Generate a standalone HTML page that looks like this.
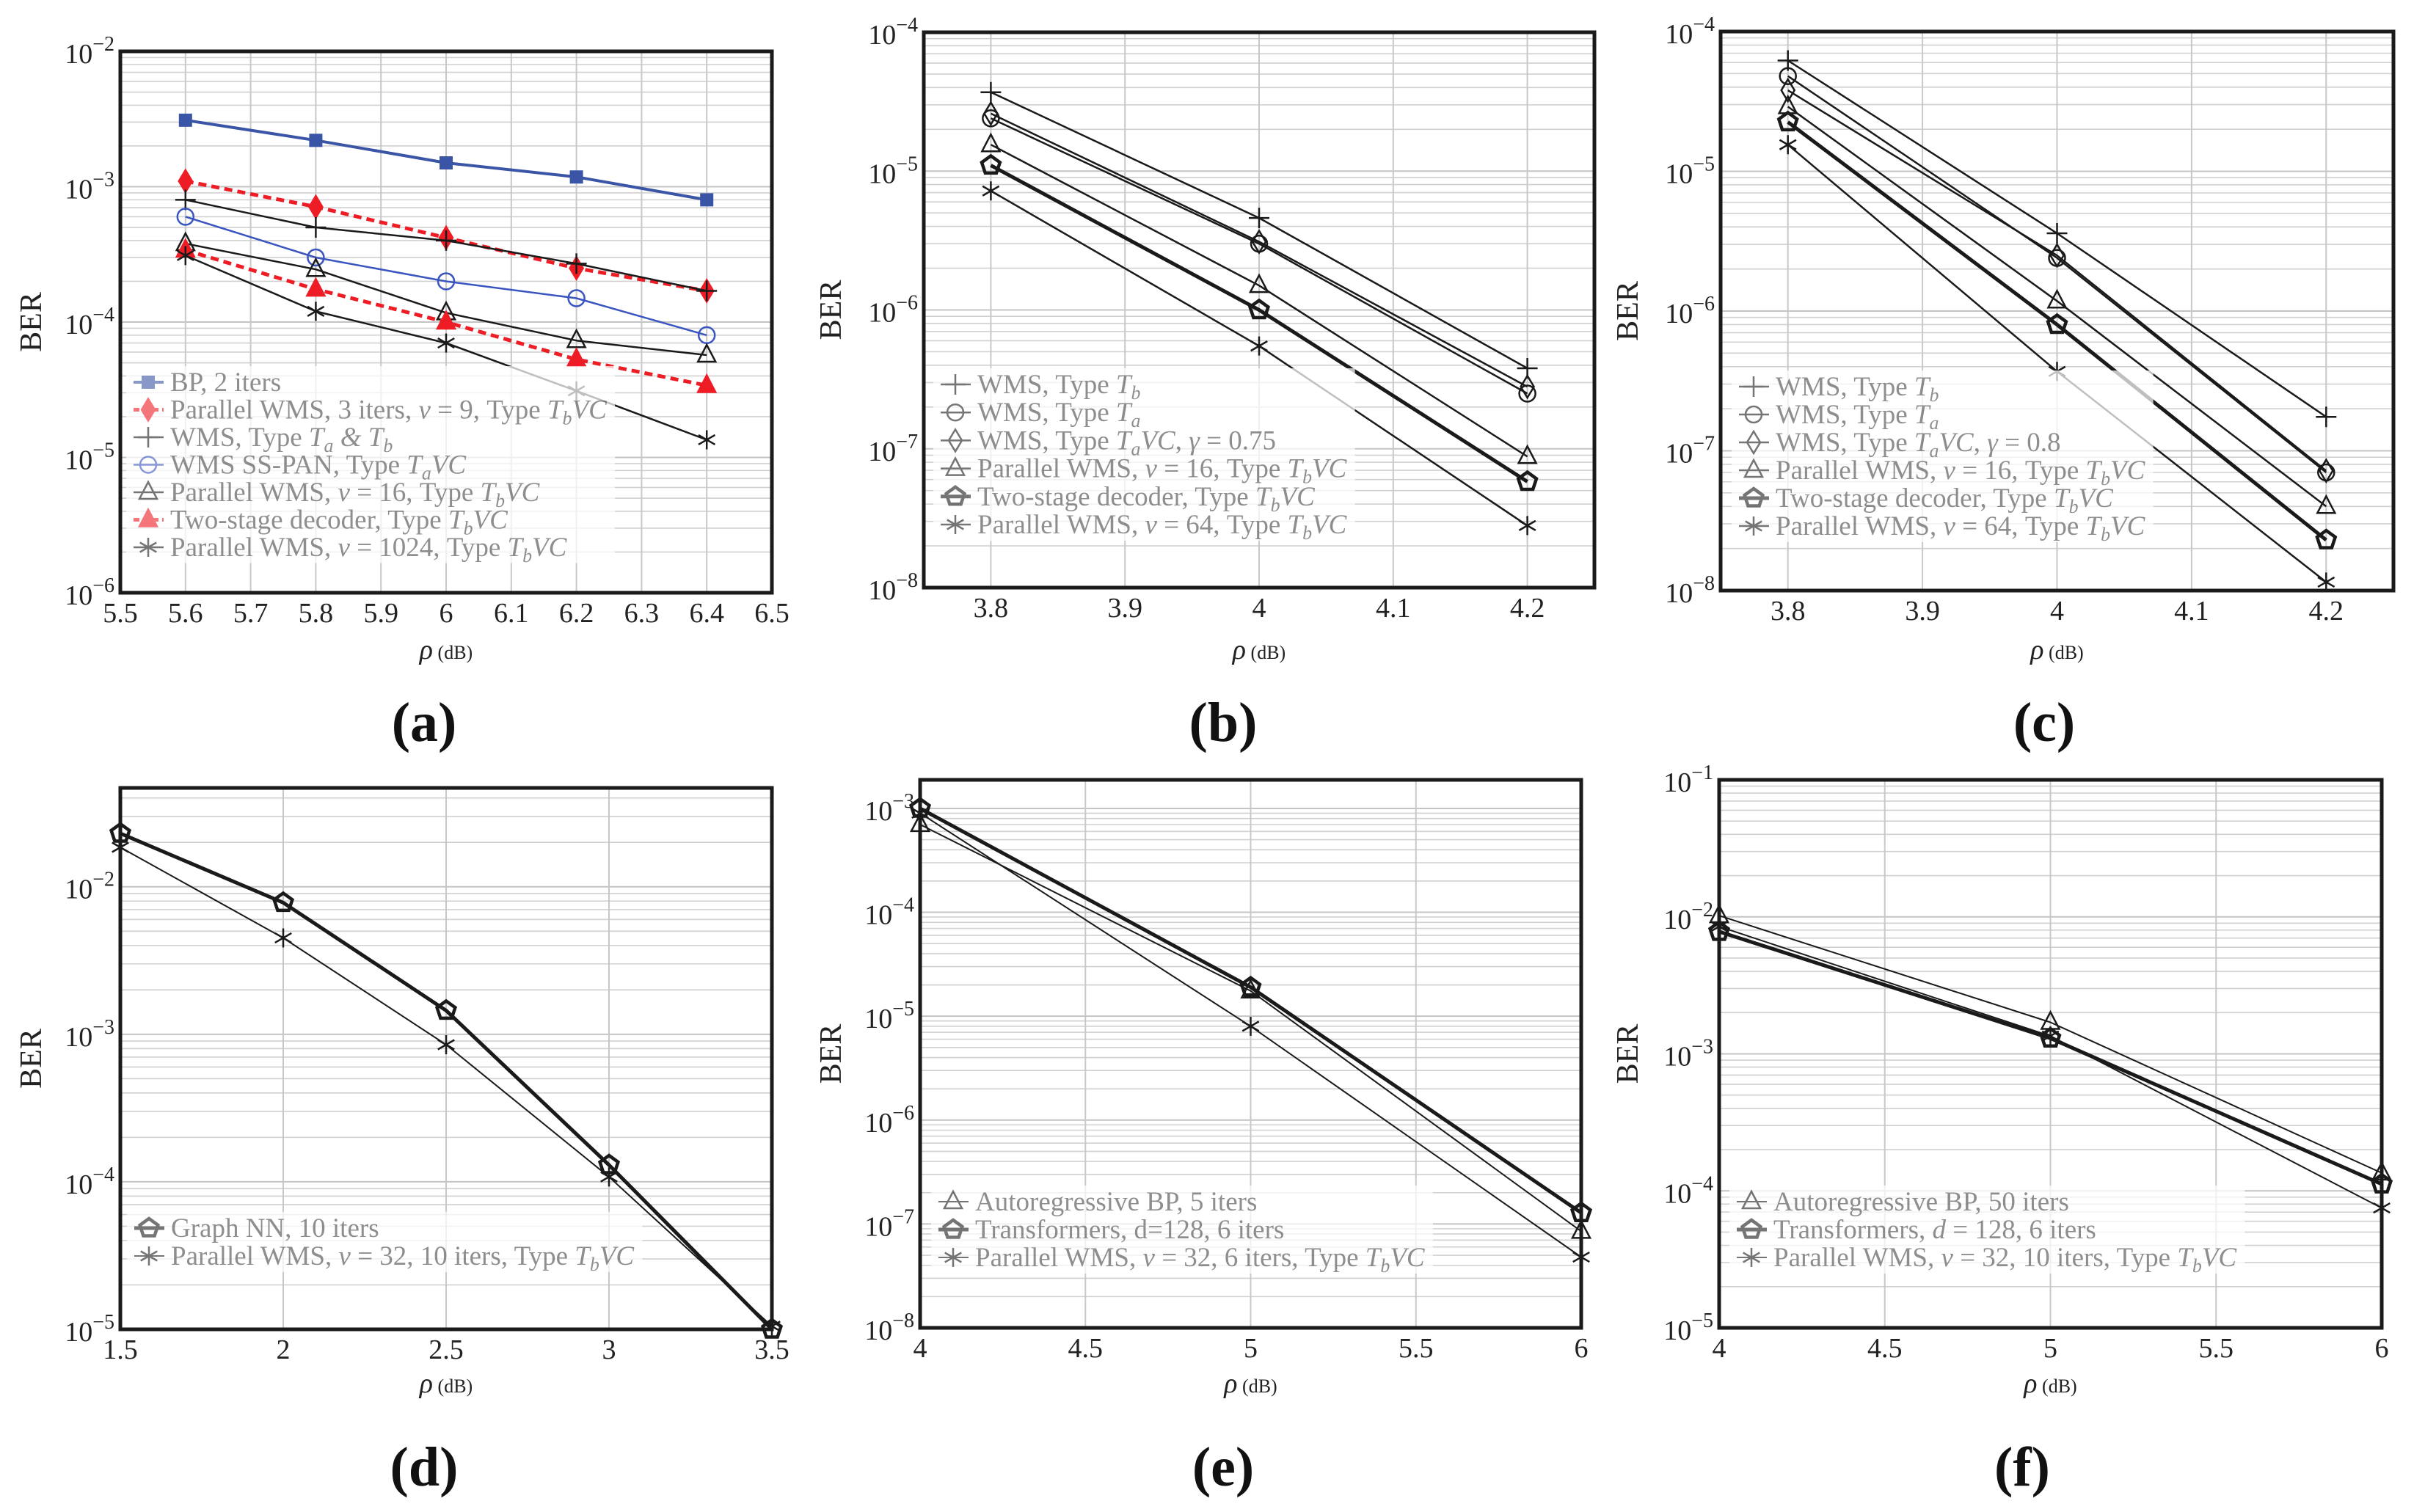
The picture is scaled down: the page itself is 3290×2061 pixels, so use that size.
<!DOCTYPE html>
<html><head><meta charset="utf-8">
<style>
html,body{margin:0;padding:0;background:#fff;}
svg{display:block;font-family:"Liberation Serif",serif;}
</style></head>
<body>
<svg id="fig" xmlns="http://www.w3.org/2000/svg" width="3290" height="2061" viewBox="0 0 3290 2061"></svg>
<script>
// ---------- DATA ----------
const aX=[5.6,5.8,6,6.2,6.4];
const aBP=[3.1e-3,2.2e-3,1.5e-3,1.18e-3,8e-4];
const aPW3=[1.1e-3,7.1e-4,4.2e-4,2.5e-4,1.7e-4];
const aWMS=[8e-4,5e-4,4e-4,2.7e-4,1.7e-4];
const aSSPAN=[6e-4,3e-4,2e-4,1.5e-4,8e-5];
const aPW16=[3.8e-4,2.45e-4,1.17e-4,7.3e-5,5.7e-5];
const aTwo=[3.4e-4,1.75e-4,1e-4,5.3e-5,3.4e-5];
const aPW1024=[3.1e-4,1.2e-4,7e-5,3.1e-5,1.35e-5];
const aXTicks=[5.5,5.6,5.7,5.8,5.9,6,6.1,6.2,6.3,6.4,6.5];

const bX=[3.8,4.0,4.2];
const bTb=[3.7e-5,4.6e-6,3.8e-7];
const bTa=[2.4e-5,3.0e-6,2.5e-7];
const bTaVC=[2.6e-5,3.1e-6,2.8e-7];
const bPW16=[1.55e-5,1.5e-6,8.8e-8];
const bTwo=[1.1e-5,1.0e-6,5.8e-8];
const bPW64=[7.2e-6,5.5e-7,2.8e-8];

const cX=[3.8,4.0,4.2];
const cTb=[6.2e-5,3.6e-6,1.75e-7];
const cTa=[4.8e-5,2.4e-6,7e-8];
const cTaVC=[3.8e-5,2.5e-6,7.2e-8];
const cPW16=[2.9e-5,1.18e-6,4e-8];
const cTwo=[2.25e-5,8e-7,2.3e-8];
const cPW64=[1.55e-5,3.7e-7,1.15e-8];
const bcXTicks=[3.8,3.9,4,4.1,4.2];

const dX=[1.5,2,2.5,3,3.5];
const dGNN=[2.3e-2,7.8e-3,1.45e-3,1.3e-4,1.0e-5];
const dPW32=[1.85e-2,4.5e-3,8.5e-4,1.08e-4,1.05e-5];
const dXTicks=[1.5,2,2.5,3,3.5];

const eX=[4,5,6];
const eAR=[7e-4,1.75e-5,8.5e-8];
const eTr=[1.0e-3,1.9e-5,1.28e-7];
const ePW32=[9e-4,8e-6,4.8e-8];

const fX=[4,5,6];
const fAR=[1.02e-2,1.7e-3,1.35e-4];
const fTr=[7.8e-3,1.3e-3,1.12e-4];
const fPW32=[8.5e-3,1.35e-3,7.5e-5];
const efXTicks=[4,4.5,5,5.5,6];

// ---------- DRAWING ----------
const NS="http://www.w3.org/2000/svg";
const svg=document.getElementById('fig');
function mk(tag,attrs,parent){const e=document.createElementNS(NS,tag);for(const k in attrs)e.setAttribute(k,attrs[k]);(parent||svg).appendChild(e);return e;}

function marker(g,type,x,y,st){
  let e;
  const stroke=st.color, sw=st.mw||2.5;
  if(type==='square'){e=mk('rect',{x:x-9,y:y-9,width:18,height:18,fill:st.color,stroke:'none'},g);}
  else if(type==='diamond'){e=mk('polygon',{points:`${x},${y-15} ${x+9},${y} ${x},${y+15} ${x-9},${y}`,fill:st.fill||'none',stroke:stroke,'stroke-width':sw},g);}
  else if(type==='circle'){e=mk('circle',{cx:x,cy:y,r:11,fill:'none',stroke:stroke,'stroke-width':sw},g);}
  else if(type==='triangle'){e=mk('polygon',{points:`${x},${y-14} ${x+12},${y+9} ${x-12},${y+9}`,fill:st.fill||'none',stroke:stroke,'stroke-width':sw},g);}
  else if(type==='pentagon'){let p=[];for(let i=0;i<5;i++){const a=-Math.PI/2+i*2*Math.PI/5;p.push((x+13*Math.cos(a)).toFixed(1)+','+(y+13*Math.sin(a)).toFixed(1));}
    e=mk('polygon',{points:p.join(' '),fill:'none',stroke:stroke,'stroke-width':sw},g);}
  else if(type==='plus'){e=mk('path',{d:`M${x-14},${y}H${x+14}M${x},${y-14}V${y+14}`,stroke:stroke,'stroke-width':sw,fill:'none'},g);}
  else if(type==='star'){let d='';for(let i=0;i<3;i++){const a=Math.PI/2+i*Math.PI/3;d+=`M${x-13*Math.cos(a)},${y-13*Math.sin(a)}L${x+13*Math.cos(a)},${y+13*Math.sin(a)}`;}
    e=mk('path',{d:d,stroke:stroke,'stroke-width':sw,fill:'none'},g);}
  
  
  return e;
}

function addRich(t,segs,fs){
  segs.forEach(s=>{
    const ts=mk('tspan',{},t);
    if(s[1]==='i'){ts.setAttribute('font-style','italic');}
    if(s[1]==='sub'){ts.setAttribute('font-style','italic');ts.setAttribute('font-size',fs*0.7);ts.setAttribute('dy',8);}
    if(s[1]==='after'){ts.setAttribute('dy',-8);ts.setAttribute('font-style','italic');}
    ts.textContent=s[0];
  });
}

function panel(c){
  const g=mk('g',{});
  
  
  const L=c.left,R=c.right,T=c.top,B=c.bottom;
  const xs=v=>L+(v-c.xmin)/(c.xmax-c.xmin)*(R-L);
  const ys=v=>T+(c.ymaxE-Math.log10(v))/(c.ymaxE-c.yminE)*(B-T);
  const grid=mk('g',{},g);
  
  
  for(let d=Math.floor(c.yminE);d<Math.ceil(c.ymaxE);d++){
    for(let k=1;k<=9;k++){const v=k*Math.pow(10,d);const lv=Math.log10(v);
      if(lv<c.yminE-1e-9||lv>c.ymaxE+1e-9)continue;const y=ys(v);
      const ln=mk('line',{x1:L,x2:R,y1:y,y2:y,stroke:k===1?'#c4c4c4':'#d0d0d0','stroke-width':k===1?2:1.6},grid);
      
      }
  }
  c.xticks.forEach(v=>{const x=xs(v);const ln=mk('line',{x1:x,x2:x,y1:T,y2:B,stroke:'#c8c8c8','stroke-width':2},grid);
    
    });
  c.series.forEach(s=>{
    const sg=mk('g',{},g);
    
    
    const pts=s.x.map((v,i)=>xs(v).toFixed(1)+','+ys(s.y[i]).toFixed(1)).join(' ');
    const pl=mk('polyline',{points:pts,fill:'none',stroke:s.color,'stroke-width':s.w,'stroke-dasharray':s.dash||'none','stroke-linejoin':'round'},sg);
    
    
    s.x.forEach((v,i)=>marker(sg,s.m,xs(v),ys(s.y[i]),s));
  });
  const lg=mk('g',{},g);
  
  
  const bg=mk('rect',{fill:'#fff','fill-opacity':0.72},lg);
  
  
  let maxR=0;
  c.series.forEach((s,i)=>{
    const y=c.legY+i*c.legDy;
    const eg=mk('g',{opacity:0.6},lg);
    
    
    mk('line',{x1:c.legX-20,x2:c.legX+21,y1:y,y2:y,stroke:s.color,'stroke-width':s.w,'stroke-dasharray':s.dash?'8,5':'none'},eg);
    marker(eg,s.m,c.legX,y,s);
    const t=mk('text',{x:c.legX+30,y:y+12,'font-size':37,fill:'#444'},eg);
    
    
    addRich(t,s.label,37);
    const bb=t.getBBox();maxR=Math.max(maxR,bb.x+bb.width);
  });
  bg.setAttribute('x',c.legX-30);bg.setAttribute('y',c.legY-22);
  bg.setAttribute('width',maxR-c.legX+40);bg.setAttribute('height',c.series.length*c.legDy+6);
  lg.insertBefore(bg,lg.firstChild);
  const fr=mk('rect',{x:L,y:T,width:R-L,height:B-T,fill:'none',stroke:'#1a1a1a','stroke-width':5},g);
  
  
  c.xticks.forEach(v=>{const t=mk('text',{x:xs(v),y:B+40,'font-size':38,'text-anchor':'middle',fill:'#222'},g);
    
    
    t.textContent=String(v);});
  for(let d=Math.ceil(c.yminE-1e-9);d<=Math.floor(c.ymaxE+1e-9);d++){
    const y=ys(Math.pow(10,d));
    const t=mk('text',{x:L-8,y:y+16,'font-size':38,'text-anchor':'end',fill:'#222'},g);
    
    
    const a=mk('tspan',{},t);a.textContent='10';
    const b=mk('tspan',{dy:-17,'font-size':28},t);b.textContent='\u2212'+(-d);
  }
  const yt=mk('text',{x:0,y:0,'font-size':42,'text-anchor':'middle',fill:'#222',transform:`translate(${c.berX},${(T+B)/2}) rotate(-90)`},g);
  
  
  yt.textContent='BER';
  const xt=mk('text',{x:(L+R)/2,y:c.rhoY,'text-anchor':'middle',fill:'#222'},g);
  
  
  const r1=mk('tspan',{'font-size':38,'font-style':'italic'},xt);r1.textContent='\u03C1';
  const r2=mk('tspan',{'font-size':26},xt);r2.textContent=' (dB)';
  const pl=mk('text',{x:c.capX,y:c.capY,'font-size':76,'font-weight':'bold','text-anchor':'middle',fill:'#111'},g);
  
  
  pl.textContent=c.cap;
}

const K='#1a1a1a';
const TbVC=[['Type ',''],['T','i'],['b','sub'],['VC','after']];
panel({name:'panel-a',left:164,right:1052,top:70,bottom:808,xmin:5.5,xmax:6.5,yminE:-6,ymaxE:-2,xticks:aXTicks,
  legX:202,legY:521,legDy:37.5,berX:56,rhoY:898,cap:'(a)',capX:578,capY:1010,
  series:[
   {id:'bp-2-iters',x:aX,y:aBP,m:'square',color:'#3a55a6',w:4,label:[['BP, 2 iters','']]},
   {id:'parallel-wms-3-iters',x:aX,y:aPW3,m:'diamond',color:'#ee1c24',fill:'#ee1c24',w:5,dash:'11,7',label:[['Parallel WMS, 3 iters, ',''],['\u03BD','i'],[' = 9, ',''],...TbVC]},
   {id:'wms-ta-tb',x:aX,y:aWMS,m:'plus',color:K,w:2.5,label:[['WMS, Type ',''],['T','i'],['a','sub'],[' & ','after'],['T','i'],['b','sub']]},
   {id:'wms-ss-pan',x:aX,y:aSSPAN,m:'circle',color:'#3a55c0',w:2.5,label:[['WMS SS-PAN, Type ',''],['T','i'],['a','sub'],['VC','after']]},
   {id:'parallel-wms-16',x:aX,y:aPW16,m:'triangle',color:K,w:2.5,label:[['Parallel WMS, ',''],['\u03BD','i'],[' = 16, ',''],...TbVC]},
   {id:'two-stage',x:aX,y:aTwo,m:'triangle',color:'#ee1c24',fill:'#ee1c24',w:5,dash:'11,7',label:[['Two-stage decoder, ',''],...TbVC]},
   {id:'parallel-wms-1024',x:aX,y:aPW1024,m:'star',color:K,w:2.5,label:[['Parallel WMS, ',''],['\u03BD','i'],[' = 1024, ',''],...TbVC]}
  ]});
function bcSeries(X,tb,ta,tavc,p16,two,p64,gam){return [
   {id:'wms-tb',x:X,y:tb,m:'plus',color:K,w:2.5,label:[['WMS, Type ',''],['T','i'],['b','sub']]},
   {id:'wms-ta',x:X,y:ta,m:'circle',color:K,w:2.5,label:[['WMS, Type ',''],['T','i'],['a','sub']]},
   {id:'wms-tavc',x:X,y:tavc,m:'diamond',color:K,w:2.5,label:[['WMS, Type ',''],['T','i'],['a','sub'],['VC','after'],[', ',''],['\u03B3','i'],[' = '+gam,'']]},
   {id:'parallel-wms-16',x:X,y:p16,m:'triangle',color:K,w:2.5,label:[['Parallel WMS, ',''],['\u03BD','i'],[' = 16, ',''],...TbVC]},
   {id:'two-stage',x:X,y:two,m:'pentagon',color:K,w:5,mw:4.5,label:[['Two-stage decoder, ',''],...TbVC]},
   {id:'parallel-wms-64',x:X,y:p64,m:'star',color:K,w:2.5,label:[['Parallel WMS, ',''],['\u03BD','i'],[' = 64, ',''],...TbVC]}];}
panel({name:'panel-b',left:1259,right:2173,top:44,bottom:801,xmin:3.75,xmax:4.25,yminE:-8,ymaxE:-4,xticks:bcXTicks,
  legX:1302,legY:524,legDy:38.2,berX:1146,rhoY:898,cap:'(b)',capX:1667,capY:1010,
  series:bcSeries(bX,bTb,bTa,bTaVC,bPW16,bTwo,bPW64,'0.75')});
panel({name:'panel-c',left:2345,right:3262,top:43,bottom:805,xmin:3.75,xmax:4.25,yminE:-8,ymaxE:-4,xticks:bcXTicks,
  legX:2390,legY:527,legDy:38,berX:2232,rhoY:898,cap:'(c)',capX:2786,capY:1010,
  series:bcSeries(cX,cTb,cTa,cTaVC,cPW16,cTwo,cPW64,'0.8')});
panel({name:'panel-d',left:164,right:1052,top:1074,bottom:1812,xmin:1.5,xmax:3.5,yminE:-5,ymaxE:-1.33,xticks:dXTicks,
  legX:203,legY:1674,legDy:38,berX:56,rhoY:1898,cap:'(d)',capX:578,capY:2025,
  series:[
   {id:'graph-nn',x:dX,y:dGNN,m:'pentagon',color:K,w:5,mw:4.5,label:[['Graph NN, 10 iters','']]},
   {id:'parallel-wms-32',x:dX,y:dPW32,m:'star',color:K,w:2,label:[['Parallel WMS, ',''],['\u03BD','i'],[' = 32, 10 iters, ',''],...TbVC]}]});
panel({name:'panel-e',left:1254,right:2155,top:1063,bottom:1810,xmin:4,xmax:6,yminE:-8,ymaxE:-2.725,xticks:efXTicks,
  legX:1299,legY:1638,legDy:38,berX:1146,rhoY:1898,cap:'(e)',capX:1667,capY:2025,
  series:[
   {id:'autoregressive-bp',x:eX,y:eAR,m:'triangle',color:K,w:2,label:[['Autoregressive BP, 5 iters','']]},
   {id:'transformers',x:eX,y:eTr,m:'pentagon',color:K,w:5,mw:4.5,label:[['Transformers, d=128, 6 iters','']]},
   {id:'parallel-wms-32',x:eX,y:ePW32,m:'star',color:K,w:2,label:[['Parallel WMS, ',''],['\u03BD','i'],[' = 32, 6 iters, ',''],...TbVC]}]});
panel({name:'panel-f',left:2343,right:3246,top:1063,bottom:1810,xmin:4,xmax:6,yminE:-5,ymaxE:-1,xticks:efXTicks,
  legX:2387,legY:1638,legDy:38,berX:2232,rhoY:1898,cap:'(f)',capX:2756,capY:2025,
  series:[
   {id:'autoregressive-bp',x:fX,y:fAR,m:'triangle',color:K,w:2,label:[['Autoregressive BP, 50 iters','']]},
   {id:'transformers',x:fX,y:fTr,m:'pentagon',color:K,w:5,mw:4.5,label:[['Transformers, ',''],['d','i'],[' = 128, 6 iters','']]},
   {id:'parallel-wms-32',x:fX,y:fPW32,m:'star',color:K,w:2,label:[['Parallel WMS, ',''],['\u03BD','i'],[' = 32, 10 iters, ',''],...TbVC]}]});
</script>
</body></html>
